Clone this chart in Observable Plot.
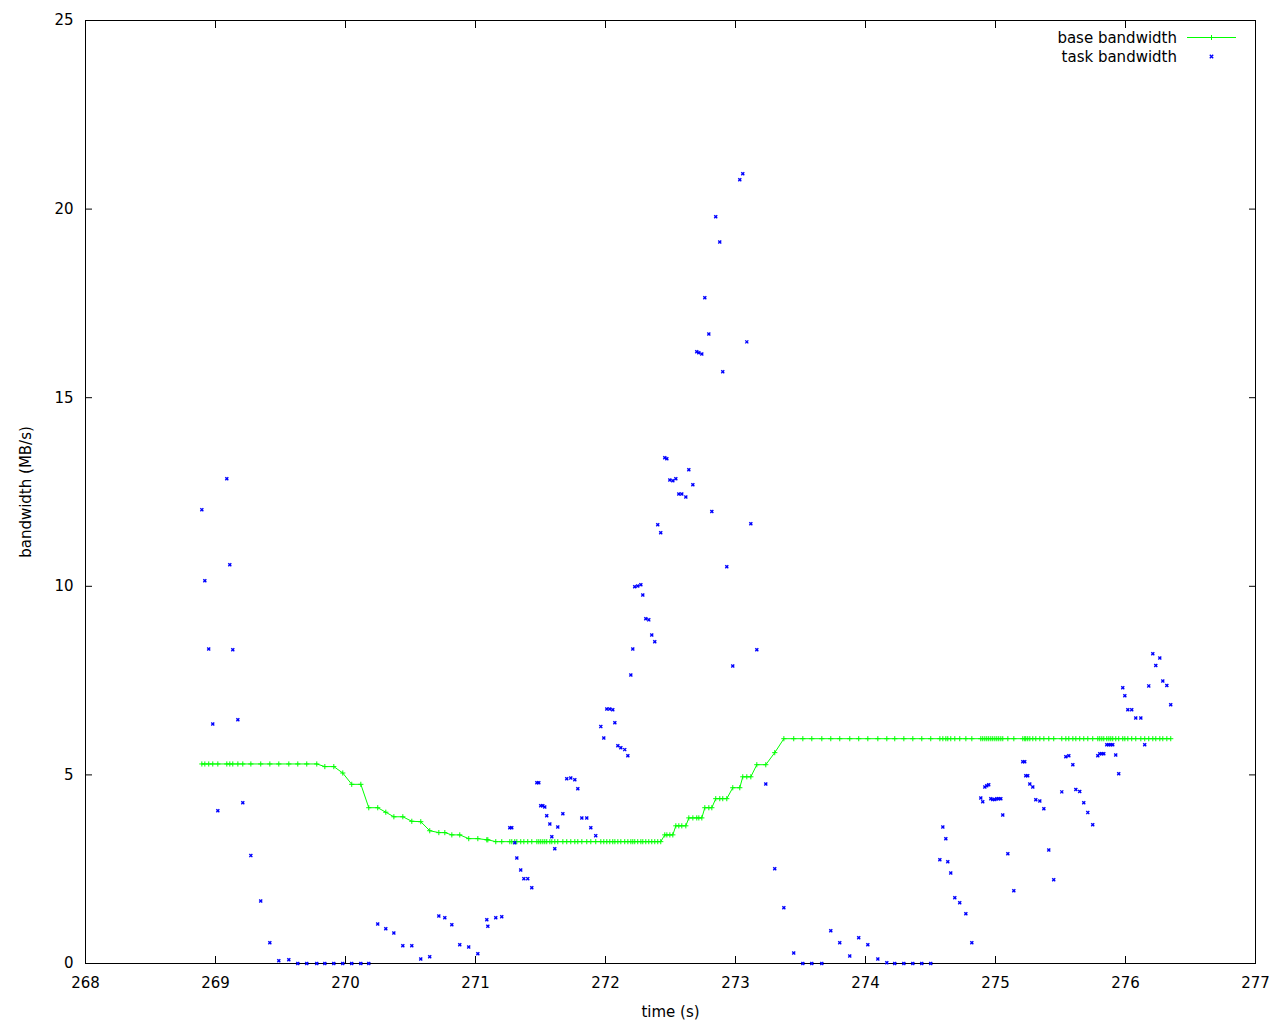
<!DOCTYPE html>
<html>
<head>
<meta charset="utf-8">
<script src="https://cdn.jsdelivr.net/npm/d3@7"></script>
<script src="https://cdn.jsdelivr.net/npm/@observablehq/plot@0.6"></script>
<style>
  html, body { margin: 0; padding: 0; background: #fff; }
  #chart { width: 1280px; height: 1024px; }
</style>
</head>
<body>
<div id="chart"></div>
<script>
// time stamps (s)
const time = [
  268.895, 268.918, 268.948, 268.979, 269.018, 269.087, 269.110, 269.133, 269.172, 269.210,
  269.272, 269.348, 269.418, 269.487, 269.564, 269.633, 269.702, 269.779, 269.841, 269.910,
  269.979, 270.048, 270.118, 270.179, 270.248, 270.310, 270.372, 270.441, 270.510, 270.579,
  270.648, 270.718, 270.764, 270.818, 270.879, 270.948, 271.018, 271.087, 271.095, 271.156,
  271.202, 271.264, 271.279, 271.302, 271.318, 271.348, 271.372, 271.402, 271.433, 271.472,
  271.487, 271.502, 271.518, 271.533, 271.548, 271.572, 271.587, 271.610, 271.633, 271.672,
  271.702, 271.733, 271.764, 271.787, 271.818, 271.856, 271.887, 271.925, 271.964, 271.987,
  272.010, 272.033, 272.056, 272.072, 272.095, 272.118, 272.148, 272.172, 272.195, 272.210,
  272.225, 272.248, 272.272, 272.287, 272.310, 272.333, 272.356, 272.379, 272.402, 272.425,
  272.456, 272.472, 272.495, 272.518, 272.541, 272.564, 272.587, 272.618, 272.641, 272.672,
  272.702, 272.718, 272.741, 272.764, 272.795, 272.818, 272.848, 272.879, 272.902, 272.933,
  272.979, 273.033, 273.056, 273.087, 273.118, 273.164, 273.233, 273.302, 273.372, 273.448,
  273.518, 273.587, 273.664, 273.733, 273.802, 273.879, 273.948, 274.018, 274.095, 274.164,
  274.225, 274.295, 274.364, 274.433, 274.502, 274.572, 274.595, 274.618, 274.633, 274.656,
  274.687, 274.725, 274.772, 274.818, 274.887, 274.902, 274.918, 274.933, 274.948, 274.964,
  274.979, 274.995, 275.010, 275.025, 275.041, 275.056, 275.095, 275.141, 275.210, 275.225,
  275.233, 275.248, 275.264, 275.287, 275.310, 275.341, 275.372, 275.410, 275.448, 275.510,
  275.541, 275.564, 275.595, 275.618, 275.648, 275.679, 275.710, 275.748, 275.787, 275.802,
  275.818, 275.833, 275.856, 275.872, 275.887, 275.902, 275.925, 275.948, 275.979, 275.995,
  276.018, 276.048, 276.079, 276.118, 276.148, 276.179, 276.210, 276.233, 276.264, 276.287,
  276.318, 276.348
];

// task bandwidth (MB/s)
const taskBandwidth = [
  12.03, 10.15, 8.34, 6.35, 4.05, 12.85, 10.57, 8.32, 6.46, 4.26,
  2.86, 1.66, 0.55, 0.07, 0.10, 0, 0, 0, 0, 0,
  0, 0, 0, 0, 1.05, 0.92, 0.81, 0.47, 0.47, 0.12,
  0.18, 1.26, 1.21, 1.03, 0.50, 0.44, 0.26, 1.16, 0.99, 1.21,
  1.24, 3.60, 3.60, 3.20, 2.80, 2.48, 2.25, 2.25, 2.01, 4.79,
  4.79, 4.18, 4.18, 4.15, 3.92, 3.70, 3.36, 3.04, 3.62, 3.97,
  4.90, 4.92, 4.87, 4.63, 3.86, 3.86, 3.60, 3.39, 6.28, 5.98,
  6.75, 6.75, 6.73, 6.38, 5.77, 5.72, 5.67, 5.51, 7.65, 8.34,
  9.99, 10.01, 10.04, 9.77, 9.14, 9.11, 8.71, 8.53, 11.63, 11.42,
  13.41, 13.38, 12.82, 12.80, 12.85, 12.45, 12.45, 12.37, 13.09, 12.69,
  16.22, 16.19, 16.16, 17.65, 16.69, 11.98, 19.80, 19.13, 15.69, 10.52,
  7.89, 20.78, 20.94, 16.48, 11.66, 8.32, 4.76, 2.51, 1.48, 0.28,
  0, 0, 0, 0.87, 0.55, 0.20, 0.68, 0.50, 0.12, 0.02,
  0, 0, 0, 0, 0, 2.75, 3.62, 3.31, 2.70, 2.40,
  1.74, 1.61, 1.32, 0.55, 4.39, 4.29, 4.68, 4.71, 4.74, 4.37,
  4.35, 4.35, 4.37, 4.37, 4.37, 3.94, 2.91, 1.93, 5.35, 5.35,
  4.98, 4.98, 4.76, 4.68, 4.34, 4.31, 4.10, 3.01, 2.22, 4.55,
  5.48, 5.51, 5.27, 4.61, 4.56, 4.26, 4.00, 3.68, 5.51, 5.56,
  5.56, 5.56, 5.80, 5.80, 5.80, 5.80, 5.53, 5.03, 7.31, 7.10,
  6.73, 6.73, 6.51, 6.51, 5.80, 7.36, 8.21, 7.90, 8.10, 7.49,
  7.37, 6.86
];

// base bandwidth (MB/s)
const baseBandwidth = [
  5.29, 5.29, 5.29, 5.29, 5.29, 5.29, 5.29, 5.29, 5.29, 5.29,
  5.29, 5.29, 5.29, 5.29, 5.29, 5.29, 5.29, 5.29, 5.22, 5.22,
  5.05, 4.75, 4.75, 4.13, 4.13, 4.01, 3.89, 3.89, 3.77, 3.76,
  3.52, 3.47, 3.47, 3.41, 3.41, 3.31, 3.31, 3.28, 3.28, 3.23,
  3.23, 3.23, 3.23, 3.23, 3.23, 3.23, 3.23, 3.23, 3.23, 3.23,
  3.23, 3.23, 3.23, 3.23, 3.23, 3.23, 3.23, 3.23, 3.23, 3.23,
  3.23, 3.23, 3.23, 3.23, 3.23, 3.23, 3.23, 3.23, 3.23, 3.23,
  3.23, 3.23, 3.23, 3.23, 3.23, 3.23, 3.23, 3.23, 3.23, 3.23,
  3.23, 3.23, 3.23, 3.23, 3.23, 3.23, 3.23, 3.23, 3.23, 3.23,
  3.41, 3.41, 3.41, 3.41, 3.65, 3.65, 3.65, 3.65, 3.86, 3.86,
  3.86, 3.86, 3.86, 4.13, 4.13, 4.13, 4.37, 4.37, 4.37, 4.37,
  4.66, 4.66, 4.95, 4.95, 4.95, 5.27, 5.27, 5.59, 5.96, 5.96,
  5.96, 5.96, 5.96, 5.96, 5.96, 5.96, 5.96, 5.96, 5.96, 5.96,
  5.96, 5.96, 5.96, 5.96, 5.96, 5.96, 5.96, 5.96, 5.96, 5.96,
  5.96, 5.96, 5.96, 5.96, 5.96, 5.96, 5.96, 5.96, 5.96, 5.96,
  5.96, 5.96, 5.96, 5.96, 5.96, 5.96, 5.96, 5.96, 5.96, 5.96,
  5.96, 5.96, 5.96, 5.96, 5.96, 5.96, 5.96, 5.96, 5.96, 5.96,
  5.96, 5.96, 5.96, 5.96, 5.96, 5.96, 5.96, 5.96, 5.96, 5.96,
  5.96, 5.96, 5.96, 5.96, 5.96, 5.96, 5.96, 5.96, 5.96, 5.96,
  5.96, 5.96, 5.96, 5.96, 5.96, 5.96, 5.96, 5.96, 5.96, 5.96,
  5.96, 5.96
];

const xTicks = [268, 269, 270, 271, 272, 273, 274, 275, 276, 277];
const yTicks = [0, 5, 10, 15, 20, 25];
const seriesNames = ["base bandwidth", "task bandwidth"];
const xLabel = "time (s)";
const yLabel = "bandwidth (MB/s)";

const rows = time.map((t, i) => ({t, task: taskBandwidth[i], base: baseBandwidth[i]}));

const GREEN = "#00ff00";
const BLUE = "#0000ff";
const fmt = d => String(d);

const svg = Plot.plot({
  width: 1280,
  height: 1024,
  marginLeft: 85,
  marginRight: 25,
  marginTop: 20,
  marginBottom: 61,
  style: {fontFamily: "DejaVu Sans", fontSize: "15px", background: "#fff", color: "#000"},
  x: {domain: [268, 277]},
  y: {domain: [0, 25]},
  marks: [
    Plot.frame({stroke: "#000"}),
    Plot.axisX(xTicks, {anchor: "bottom", tickSize: -7, fill: "none", label: null}),
    Plot.axisX(xTicks, {anchor: "top", tickSize: -7, fill: "none", label: null}),
    Plot.axisY(yTicks, {anchor: "left", tickSize: -7, fill: "none", label: null}),
    Plot.axisY(yTicks, {anchor: "right", tickSize: -7, fill: "none", label: null}),
    Plot.axisX(xTicks, {anchor: "bottom", tickSize: 0, tickPadding: 13.5, tickFormat: fmt, label: xLabel, labelAnchor: "center", labelOffset: 53, labelArrow: "none"}),
    Plot.axisY(yTicks, {anchor: "left", tickSize: 0, tickPadding: 12, tickFormat: fmt, label: yLabel, labelAnchor: "center", labelOffset: 65, labelArrow: "none"}),
    Plot.line(rows, {x: "t", y: "base", stroke: GREEN, strokeWidth: 1}),
    Plot.dot(rows, {x: "t", y: "base", symbol: "plus", r: 1.8, stroke: GREEN, fill: "none", strokeWidth: 1}),
    Plot.dot(rows, {x: "t", y: "task", symbol: "times", r: 1.5, stroke: BLUE, fill: "none", strokeWidth: 1.4})
  ]
});

document.getElementById("chart").appendChild(svg);

// key, inside the top-right corner of the frame
const g = d3.select(svg).append("g")
  .attr("font-family", "DejaVu Sans")
  .attr("font-size", 15)
  .attr("fill", "#000");
g.append("text").attr("x", 1177).attr("y", 43).attr("text-anchor", "end").text(seriesNames[0]);
g.append("text").attr("x", 1177).attr("y", 61.5).attr("text-anchor", "end").text(seriesNames[1]);
g.append("line").attr("x1", 1187).attr("x2", 1236).attr("y1", 37.5).attr("y2", 37.5)
  .attr("stroke", GREEN).attr("stroke-width", 1);
g.append("path").attr("d", "M1209,37.5H1214M1211.5,35V40").attr("stroke", GREEN).attr("fill", "none");
g.append("path").attr("d", "M1209.8,54.8L1213.2,58.2M1213.2,54.8L1209.8,58.2").attr("stroke", BLUE).attr("stroke-width", 1.4).attr("fill", "none");
</script>
</body>
</html>
